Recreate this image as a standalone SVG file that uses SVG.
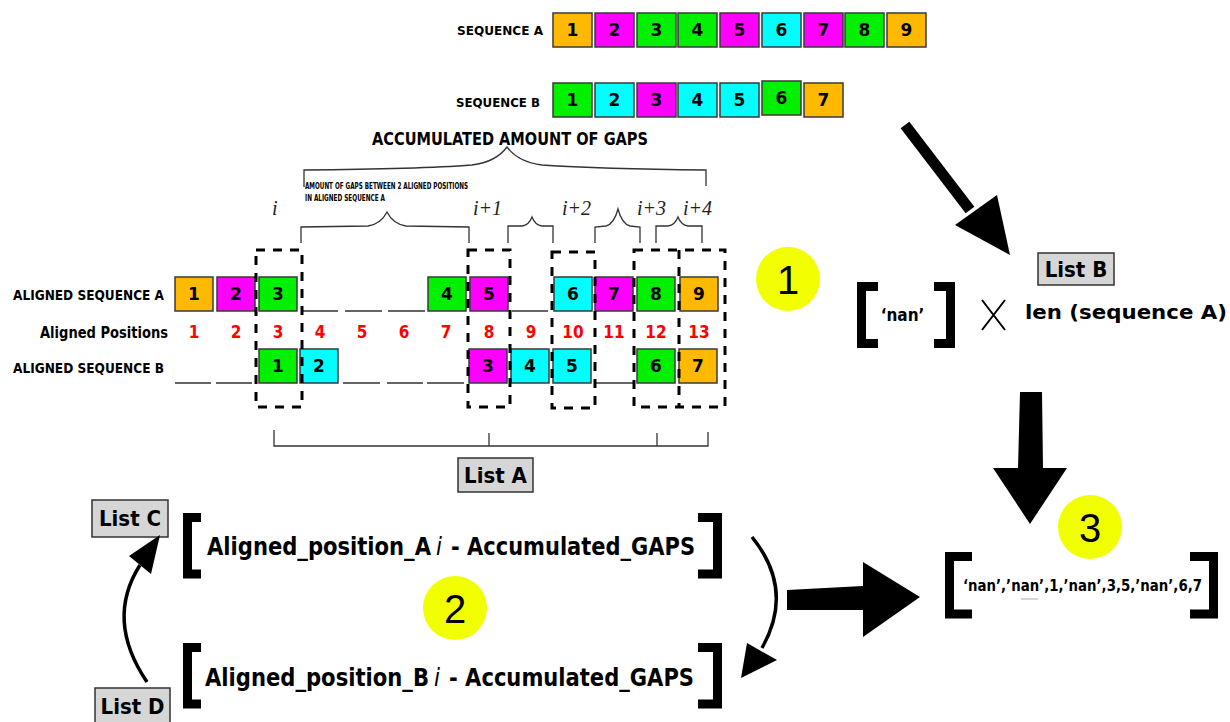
<svg xmlns="http://www.w3.org/2000/svg" width="1230" height="722" viewBox="0 0 1230 722">
  <defs>
    <style>
      .bk { fill: #ffffff; }
      .cell { stroke: #3a3a3a; stroke-width: 1.5; }
      .or { fill: #ffb900; }
      .mg { fill: #ff00ff; }
      .gr { fill: #00f000; }
      .cy { fill: #00ffff; }
      .num { font-family: "DejaVu Sans", "Liberation Sans", sans-serif; font-weight: bold; font-size: 17px; fill: #000; text-anchor: middle; }
      .pos { font-family: "DejaVu Sans Condensed", "DejaVu Sans", sans-serif; font-weight: bold; font-size: 17px; fill: #ff0000; text-anchor: middle; }
      .lbl { font-family: "DejaVu Sans Condensed", "DejaVu Sans", sans-serif; font-weight: bold; fill: #000; }
      .idx { font-family: "Liberation Serif", "DejaVu Serif", serif; font-style: italic; font-size: 20px; fill: #222; }
      .gap { stroke: #333; stroke-width: 1.5; fill: none; }
      .brace { stroke: #333; stroke-width: 1.3; fill: none; }
      .dash { stroke: #000; stroke-width: 3; fill: none; stroke-dasharray: 9 8; }
      .tag rect { fill: #d6d6d6; stroke: #333; stroke-width: 1.5; }
      .tag text { font-family: "DejaVu Sans Condensed", "DejaVu Sans", sans-serif; font-weight: bold; font-size: 22px; fill: #000; text-anchor: middle; }
      .sq { stroke: #000; stroke-width: 9; fill: none; stroke-linejoin: miter; }
      .step circle { fill: #f2ff00; }
      .step text { font-family: "Liberation Sans", "DejaVu Sans", sans-serif; font-size: 40px; fill: #000; text-anchor: middle; }
      .bold-arrow { fill: #000; }
      .fx { font-family: "DejaVu Sans Condensed", "DejaVu Sans", sans-serif; font-weight: bold; font-size: 24px; fill: #000; }
      .fi { font-family: "DejaVu Sans Condensed", "DejaVu Sans", sans-serif; font-style: italic; font-size: 24px; fill: #000; }
    </style>
  </defs>

  <rect class="bk" x="0" y="0" width="1230" height="722"/>

  <!-- Sequence A -->
  <g id="sequence-a">
    <text class="lbl" x="457" y="35" font-size="13" textLength="86" lengthAdjust="spacingAndGlyphs">SEQUENCE A</text>
    <rect class="cell or" x="553" y="13" width="39" height="34"/><text class="num" x="572.5" y="36">1</text>
    <rect class="cell mg" x="595" y="13" width="39" height="34"/><text class="num" x="614.5" y="36">2</text>
    <rect class="cell gr" x="637" y="13" width="39" height="34"/><text class="num" x="656.5" y="36">3</text>
    <rect class="cell gr" x="678" y="13" width="39" height="34"/><text class="num" x="697.5" y="36">4</text>
    <rect class="cell mg" x="720" y="13" width="39" height="34"/><text class="num" x="739.5" y="36">5</text>
    <rect class="cell cy" x="762" y="13" width="39" height="34"/><text class="num" x="781.5" y="36">6</text>
    <rect class="cell mg" x="804" y="13" width="39" height="34"/><text class="num" x="823.5" y="36">7</text>
    <rect class="cell gr" x="845" y="13" width="39" height="34"/><text class="num" x="864.5" y="36">8</text>
    <rect class="cell or" x="887" y="13" width="39" height="34"/><text class="num" x="906.5" y="36">9</text>
  </g>

  <!-- Sequence B -->
  <g id="sequence-b">
    <text class="lbl" x="456" y="107" font-size="13" textLength="84" lengthAdjust="spacingAndGlyphs">SEQUENCE B</text>
    <rect class="cell gr" x="553" y="83" width="39" height="34"/><text class="num" x="572.5" y="106">1</text>
    <rect class="cell cy" x="595" y="83" width="39" height="34"/><text class="num" x="614.5" y="106">2</text>
    <rect class="cell mg" x="637" y="83" width="39" height="34"/><text class="num" x="656.5" y="106">3</text>
    <rect class="cell cy" x="678" y="83" width="39" height="34"/><text class="num" x="697.5" y="106">4</text>
    <rect class="cell cy" x="720" y="83" width="39" height="34"/><text class="num" x="739.5" y="106">5</text>
    <rect class="cell gr" x="762" y="81" width="39" height="34"/><text class="num" x="781.5" y="104">6</text>
    <rect class="cell or" x="804" y="83" width="39" height="34"/><text class="num" x="823.5" y="106">7</text>
  </g>

  <!-- Gap braces -->
  <g id="gap-braces">
    <text class="lbl" x="372" y="145" font-size="17" textLength="276" lengthAdjust="spacingAndGlyphs">ACCUMULATED AMOUNT OF GAPS</text>
    <path class="brace" d="M304,187 V170 Q420,169 472,165 Q496,162 507,147 Q518,162 542,165 Q600,169 706,170 V186"/>
    <text class="lbl" x="305" y="189" font-size="8" textLength="163" lengthAdjust="spacingAndGlyphs">AMOUNT OF GAPS BETWEEN 2 ALIGNED POSITIONS</text>
    <text class="lbl" x="305" y="201" font-size="8" textLength="80" lengthAdjust="spacingAndGlyphs">IN ALIGNED SEQUENCE A</text>
    <path class="brace" d="M301,243 V227 L368,226 Q381,224 387,212 Q393,224 406,226 L469,227 V243"/>
    <path class="brace" d="M508,243 V226 L522,226 Q529,225 532,217 Q535,225 542,226 L553,226 V243"/>
    <path class="brace" d="M595,243 V227 L606,226 Q614,224 618,209 Q622,224 630,226 L640,227 V243"/>
    <path class="brace" d="M656,243 V226 L668,226 Q675,225 678,217 Q681,225 688,226 L702,226 V243"/>
    <text class="idx" x="272" y="215">i</text>
    <text class="idx" x="473" y="215">i+1</text>
    <text class="idx" x="562" y="215">i+2</text>
    <text class="idx" x="637" y="215">i+3</text>
    <text class="idx" x="683" y="215">i+4</text>
  </g>

  <!-- Aligned sequence A -->
  <g id="aligned-a">
    <text class="lbl" x="13" y="300" font-size="14" textLength="151" lengthAdjust="spacingAndGlyphs">ALIGNED SEQUENCE A</text>
    <rect class="cell or" x="175" y="277" width="38" height="34"/><text class="num" x="194" y="300">1</text>
    <rect class="cell mg" x="217" y="277" width="38" height="34"/><text class="num" x="236" y="300">2</text>
    <rect class="cell gr" x="259" y="277" width="38" height="34"/><text class="num" x="278" y="300">3</text>
    <path class="gap" d="M302,311 H338 M345,311 H382 M388,311 H425"/>
    <rect class="cell gr" x="428" y="277" width="38" height="34"/><text class="num" x="447" y="300">4</text>
    <rect class="cell mg" x="470" y="277" width="38" height="34"/><text class="num" x="489" y="300">5</text>
    <path class="gap" d="M512,311 H548"/>
    <rect class="cell cy" x="554" y="277" width="38" height="34"/><text class="num" x="573" y="300">6</text>
    <rect class="cell mg" x="595" y="277" width="38" height="34"/><text class="num" x="614" y="300">7</text>
    <rect class="cell gr" x="637" y="277" width="38" height="34"/><text class="num" x="656" y="300">8</text>
    <rect class="cell or" x="680" y="277" width="38" height="34"/><text class="num" x="699" y="300">9</text>
  </g>

  <!-- Aligned positions -->
  <g id="aligned-positions">
    <text class="lbl" x="40" y="338" font-size="15" textLength="128" lengthAdjust="spacingAndGlyphs">Aligned Positions</text>
    <text class="pos" x="194" y="338">1</text>
    <text class="pos" x="236" y="338">2</text>
    <text class="pos" x="278" y="338">3</text>
    <text class="pos" x="320" y="338">4</text>
    <text class="pos" x="362" y="338">5</text>
    <text class="pos" x="404" y="338">6</text>
    <text class="pos" x="446" y="338">7</text>
    <text class="pos" x="489" y="338">8</text>
    <text class="pos" x="531" y="338">9</text>
    <text class="pos" x="573" y="338">10</text>
    <text class="pos" x="614" y="338">11</text>
    <text class="pos" x="656" y="338">12</text>
    <text class="pos" x="699" y="338">13</text>
  </g>

  <!-- Aligned sequence B -->
  <g id="aligned-b">
    <text class="lbl" x="13" y="373" font-size="14" textLength="151" lengthAdjust="spacingAndGlyphs">ALIGNED SEQUENCE B</text>
    <path class="gap" d="M175,383 H211 M216,383 H252"/>
    <rect class="cell gr" x="259" y="349" width="38" height="34"/><text class="num" x="278" y="372">1</text>
    <rect class="cell cy" x="300" y="349" width="38" height="34"/><text class="num" x="319" y="372">2</text>
    <path class="gap" d="M343,383 H380 M387,383 H423 M427,383 H464"/>
    <rect class="cell mg" x="469" y="349" width="38" height="34"/><text class="num" x="488" y="372">3</text>
    <rect class="cell cy" x="511" y="349" width="38" height="34"/><text class="num" x="530" y="372">4</text>
    <rect class="cell cy" x="553" y="349" width="38" height="34"/><text class="num" x="572" y="372">5</text>
    <path class="gap" d="M595,383 H633"/>
    <rect class="cell gr" x="637" y="349" width="38" height="34"/><text class="num" x="656" y="372">6</text>
    <rect class="cell or" x="679" y="349" width="38" height="34"/><text class="num" x="698" y="372">7</text>
  </g>

  <!-- Dashed frames around aligned columns -->
  <g id="aligned-frames">
    <rect class="dash" x="256" y="250" width="46" height="157"/>
    <rect class="dash" x="468" y="250" width="42" height="157"/>
    <rect class="dash" x="552" y="252" width="43" height="156"/>
    <rect class="dash" x="634" y="250" width="91" height="157"/>
    <path class="dash" d="M679,250 V407"/>
  </g>

  <!-- List A -->
  <g id="list-a">
    <path class="brace" d="M274,430 V446 H708 V432 M489,433 V446 M657,433 V446"/>
    <g class="tag"><rect x="458" y="458" width="75" height="34"/><text x="495.5" y="483">List A</text></g>
  </g>

  <!-- Step 1 marker -->
  <g id="step-1" class="step">
    <circle cx="788" cy="279" r="32"/>
    <text x="788" y="294">1</text>
  </g>

  <!-- List B -->
  <g id="list-b">
    <g class="tag"><rect x="1038" y="253" width="76" height="32"/><text x="1076" y="277">List B</text></g>
    <path class="sq" d="M878,286.5 H861.5 V343.5 H878"/>
    <path class="sq" d="M934,286.5 H950.5 V343.5 H934"/>
    <text class="lbl" x="902.5" y="321" font-size="17" text-anchor="middle">‘nan’</text>
    <path d="M982,300 L1005,330 M1005,300 L982,330" stroke="#000" stroke-width="2" fill="none"/>
    <text class="lbl" x="1025" y="319" font-size="20" textLength="202" lengthAdjust="spacingAndGlyphs">len (sequence A)</text>
  </g>

  <!-- List C formula -->
  <g id="list-c">
    <g class="tag"><rect x="92" y="500" width="76" height="37"/><text x="130" y="526">List C</text></g>
    <path class="sq" d="M201,517.5 H187.5 V574 H201"/>
    <path class="sq" d="M698,517.5 H717.5 V574 H698"/>
    <text class="fx" x="207" y="555" textLength="224" lengthAdjust="spacingAndGlyphs">Aligned_position_A</text>
    <text class="fi" x="436" y="555">i</text>
    <text class="fx" x="451" y="555" textLength="244" lengthAdjust="spacingAndGlyphs">- Accumulated_GAPS</text>
  </g>

  <!-- Step 2 marker -->
  <g id="step-2" class="step">
    <circle cx="455" cy="608" r="32"/>
    <text x="455" y="623">2</text>
  </g>

  <!-- List D formula -->
  <g id="list-d">
    <g class="tag"><rect x="95" y="688" width="75" height="36"/><text x="132.5" y="714">List D</text></g>
    <path class="sq" d="M201,647.5 H187.5 V704 H201"/>
    <path class="sq" d="M698,647.5 H717.5 V704 H698"/>
    <text class="fx" x="205" y="686" textLength="224" lengthAdjust="spacingAndGlyphs">Aligned_position_B</text>
    <text class="fi" x="434" y="686">i</text>
    <text class="fx" x="449" y="686" textLength="245" lengthAdjust="spacingAndGlyphs">- Accumulated_GAPS</text>
  </g>

  <!-- Step 3 marker -->
  <g id="step-3" class="step">
    <circle cx="1090" cy="527" r="32"/>
    <text x="1090" y="542">3</text>
  </g>

  <!-- Result list -->
  <g id="result">
    <path class="sq" d="M972,556.5 H949.5 V614 H972"/>
    <path class="sq" d="M1190,556.5 H1213.5 V614 H1190"/>
    <text class="lbl" x="963" y="591" font-size="16" textLength="239" lengthAdjust="spacingAndGlyphs">‘nan’,’nan’,1,’nan’,3,5,’nan’,6,7</text>
    <path d="M1021,599 H1038" stroke="#aaa" stroke-width="1"/>
  </g>

  <!-- Connectors -->
  <g id="connectors">
    <path d="M905,125 L970,210" stroke="#000" stroke-width="11" fill="none"/>
    <polygon class="bold-arrow" points="955,225 997,195 1010,255"/>
    <polygon class="bold-arrow" points="1020,392 1042,392 1043,468 1067,468 1030,524 993,468 1018,468"/>
    <polygon class="bold-arrow" points="787,590 863,586 863,562 920,597 863,637 863,610 787,610"/>
    <path d="M752,537 Q795,590 762,648" stroke="#000" stroke-width="3.5" fill="none"/>
    <polygon class="bold-arrow" points="747,643 777,660 741,678"/>
    <path d="M147,682 Q105,620 140,565" stroke="#000" stroke-width="3.5" fill="none"/>
    <polygon class="bold-arrow" points="129,556 151,574 160,535"/>
  </g>
</svg>
